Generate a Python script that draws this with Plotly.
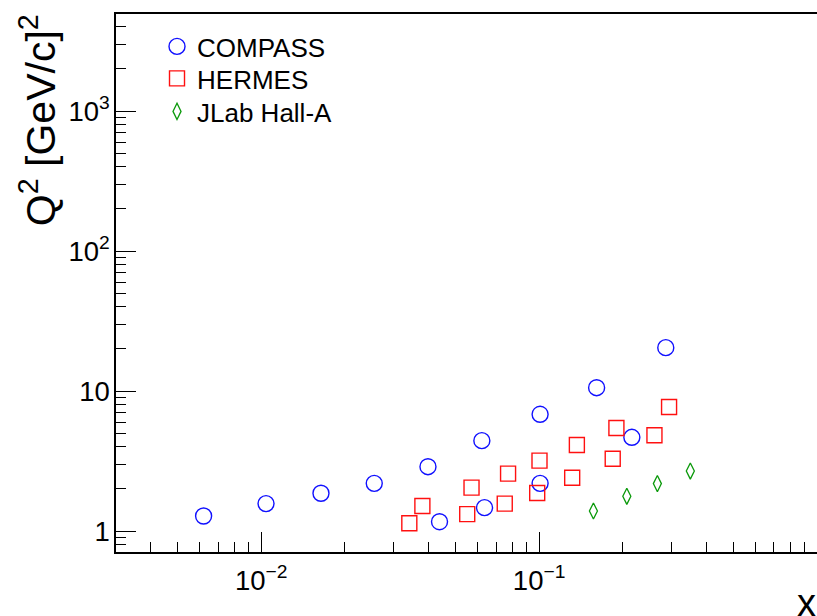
import math
import plotly.graph_objects as go

compass_x = [0.0062, 0.0104, 0.0164, 0.0255, 0.0398, 0.0622, 0.0438, 0.0636, 0.1008, 0.1008, 0.161, 0.2856, 0.2156]
compass_y = [1.28, 1.57, 1.86, 2.19, 2.88, 4.42, 1.165, 1.47, 6.82, 2.19, 10.56, 20.4, 4.67]

hermes_x = [0.0341, 0.038, 0.0551, 0.0571, 0.0752, 0.0773, 0.0984, 0.1003, 0.1315, 0.1367, 0.184, 0.1897, 0.26, 0.2935]
hermes_y = [1.135, 1.51, 1.32, 2.04, 1.57, 2.57, 1.87, 3.18, 2.40, 4.11, 3.28, 5.44, 4.83, 7.69]

jlab_x = [0.1568, 0.2068, 0.2664, 0.35]
jlab_y = [1.39, 1.77, 2.18, 2.68]

FONT = "Liberation Sans, Arial, Helvetica, sans-serif"

fig = go.Figure()
fig.add_trace(go.Scatter(x=compass_x, y=compass_y, mode="markers", name="COMPASS", legend="legend",
                         showlegend=True,
                         marker=dict(symbol="circle-open", size=16, color="#1010ff",
                                     line=dict(width=1.4, color="#1010ff"))))
fig.add_trace(go.Scatter(x=hermes_x, y=hermes_y, mode="markers", name="HERMES", legend="legend2",
                         showlegend=True,
                         marker=dict(symbol="square-open", size=15, color="#ff1010",
                                     line=dict(width=1.4, color="#ff1010"))))
fig.add_trace(go.Scatter(x=jlab_x, y=jlab_y, mode="markers", name="JLab Hall-A", legend="legend3",
                         showlegend=True,
                         marker=dict(symbol="diamond-tall-open", size=11.5, color="#0a990a",
                                     line=dict(width=1.3, color="#0a990a"))))

axis_common = dict(
    type="log", showgrid=False, zeroline=False, showline=True,
    linecolor="black", linewidth=1.6, ticks="inside", ticklen=20, tickwidth=1.2,
    tickcolor="black", dtick=1, exponentformat="power",
    tickfont=dict(family=FONT, size=22, color="black"),
    minor=dict(ticks="inside", ticklen=10, tickwidth=1.2, tickcolor="black", dtick="D1", showgrid=False),
)

fig.update_xaxes(**axis_common, range=[math.log10(0.003), 0], mirror=True, ticklabelstandoff=4)
fig.update_yaxes(**axis_common, range=[-0.15, 3.693], mirror=False, ticklabelstandoff=0)

fig.add_annotation(text="Q<sup>2</sup> [GeV/c]<sup>2</sup>", textangle=-90,
                   xref="paper", yref="paper", x=-0.111, y=0.803,
                   xanchor="center", yanchor="middle", showarrow=False,
                   font=dict(family=FONT, size=41, color="black"))
fig.add_annotation(text="x", xref="paper", yref="paper", x=0.9857, y=-0.0948,
                   xanchor="center", yanchor="middle", showarrow=False,
                   font=dict(family=FONT, size=38, color="black"))

leg_common = dict(x=0.0585, xanchor="left", yanchor="top",
                  bgcolor="rgba(0,0,0,0)", borderwidth=0,
                  font=dict(family=FONT, size=26, color="black"))

fig.update_layout(
    width=817, height=616,
    margin=dict(l=116, r=0, t=14, b=64),
    plot_bgcolor="white", paper_bgcolor="white",
    font=dict(family=FONT, color="black"),
    showlegend=True,
    legend=dict(**leg_common, y=0.9833),
    legend2=dict(**leg_common, y=0.9238),
    legend3=dict(**leg_common, y=0.8625),
)

fig.write_html("out.html")
